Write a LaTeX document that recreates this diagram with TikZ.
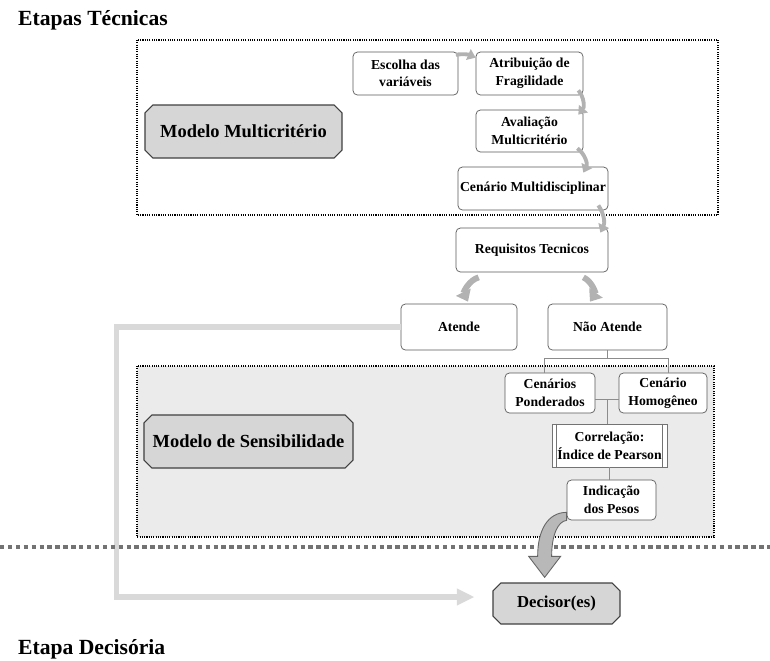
\documentclass[tikz,border=0pt]{standalone}
\usepackage{fontspec}
\setmainfont{Liberation Serif}
\usetikzlibrary{arrows.meta,shapes.misc,calc}
\begin{document}
\begin{tikzpicture}[x=0.2mm,y=-0.2mm,
  caixa/.style={draw=black!65,fill=white,rounded corners=2.5pt,align=center,
    inner sep=1pt,font=\fontsize{7.8}{10}\selectfont\bfseries},
  modelo/.style={chamfered rectangle,chamfered rectangle xsep=0.5mm,draw=black!75,
    fill=black!16,line width=0.6pt,font=\fontsize{10.5}{12}\selectfont\bfseries},
  titulo/.style={anchor=west,font=\fontsize{12.3}{14}\selectfont\bfseries},
  pontilhado/.style={line width=0.8pt,dash pattern=on 0.6pt off 0.7pt},
  separador/.style={draw=black!55,line width=2.2pt,dash pattern=on 2.5pt off 2pt},
  ramo/.style={draw=black!45,line width=0.5pt},
  seta/.style={draw=black!30,line width=2.2pt,-{Triangle[width=6.5pt,length=4.5pt]}},
  setagrande/.style={draw=black!30,line width=3.4pt,-{Triangle[width=9pt,length=6pt]}},
  retorno/.style={draw=black!15,line width=3pt,-{Triangle[width=9pt,length=10pt]}}]
\useasboundingbox (0,0) rectangle (770,660);

\node[titulo] (tecnicas) at (12,20) {Etapas Técnicas};
\node[titulo] (decisoria) at (12,649) {Etapa Decisória};

\draw[pontilhado] (137,40) rectangle (718,215);
\draw[pontilhado,fill=black!8] (137,366) rectangle (714,537);

\node[modelo,minimum width=39.4mm,minimum height=10.6mm] (mmulti) at (243.5,131.5) {Modelo Multicritério};
\node[caixa,minimum width=21mm,minimum height=8.6mm] (escolha) at (405.5,73.5) {Escolha das\\variáveis};
\node[caixa,minimum width=21.4mm,minimum height=8.6mm] (atrib) at (529.5,73.5) {Atribuição de\\Fragilidade};
\node[caixa,minimum width=21.4mm,minimum height=8.4mm] (aval) at (529.5,131) {Avaliação\\Multicritério};
\node[caixa,minimum width=30mm,minimum height=8.6mm] (cenmulti) at (533,188.5) {Cenário Multidisciplinar};
\node[caixa,minimum width=30.4mm,minimum height=8.8mm] (req) at (532,250) {Requisitos Tecnicos};
\node[caixa,minimum width=23.2mm,minimum height=9.2mm] (atende) at (459,327) {Atende};
\node[caixa,minimum width=23.8mm,minimum height=9.2mm] (nao) at (607.5,327) {Não Atende};

\node[modelo,minimum width=41.8mm,minimum height=10.6mm] (msens) at (248.5,441.5) {Modelo de Sensibilidade};
\node[caixa,minimum width=18mm,minimum height=8mm] (cenp) at (550,393) {Cenários\\Ponderados};
\node[caixa,minimum width=17.6mm,minimum height=8mm] (cenh) at (663,393) {Cenário\\Homogêneo};
\node[caixa,rounded corners=0pt,draw=black!55,minimum width=23mm,minimum height=8.6mm] (corr) at (609.5,445.5) {Correlação:\\Índice de Pearson};
\draw[black!55] ([xshift=1mm]corr.north west) -- ([xshift=1mm]corr.south west);
\draw[black!55] ([xshift=-1mm]corr.north east) -- ([xshift=-1mm]corr.south east);
\node[caixa,minimum width=17.8mm,minimum height=8mm] (pesos) at (611.5,500) {Indicação\\dos Pesos};

\node[modelo,minimum width=25.4mm,minimum height=8.2mm,font=\fontsize{9.5}{11}\selectfont\bfseries] (decisor) at (556.5,603.5) {Decisor(es)};

\draw[seta] ([xshift=-0.5mm,yshift=-0.6mm]escolha.north east) to[bend left=15] ([yshift=-1.2mm]atrib.north west);
\draw[seta] ([xshift=-1mm,yshift=1mm]atrib.south east) to[bend left=40] ([xshift=-1mm,yshift=-1mm]aval.north east);
\draw[seta] ([xshift=-1.2mm,yshift=0.8mm]aval.south east) to[bend left=40] ([xshift=-5mm,yshift=-1.2mm]cenmulti.north east);
\draw[seta] ([xshift=-2mm,yshift=1mm]cenmulti.south east) to[bend left=30] ([xshift=-1.6mm,yshift=-1mm]req.north east);
\draw[setagrande] ([xshift=4.6mm,yshift=-1mm]req.south west) to[bend right=50] ([xshift=1.8mm,yshift=0.4mm]atende.north);
\draw[setagrande] ([xshift=-5mm,yshift=-1mm]req.south east) to[bend left=50] ([xshift=-3.5mm,yshift=0.4mm]nao.north);

\draw[ramo] (nao.south) -- ++(0,8) coordinate (bifurca);
\draw[ramo] ([xshift=-1.2mm]cenp.north) |- (bifurca) -| ([xshift=1mm]cenh.north);
\draw[ramo] ([yshift=-1.2mm]cenp.east) -- coordinate[pos=0.5] (meio) ([yshift=-1.2mm]cenh.west);
\draw[ramo] (meio) -- (meio |- corr.north);
\draw[ramo] (corr.south) -- (corr.south |- pesos.north);

\draw[retorno] (atende.west) -| ([xshift=-75.2mm,yshift=1.3mm]decisor.west) -- ([xshift=-3.6mm,yshift=1.3mm]decisor.west);

\draw[separador] (0,547) -- (770,547);

\coordinate (p) at (pesos.south west);
\filldraw[fill=black!28,draw=black!60,line width=0.5pt]
  ($(p)+(0,-8)$) .. controls ($(p)+(-19,-8)$) and ($(p)+(-29,10)$) .. ($(p)+(-29,36)$)
  -- ($(p)+(-38,36)$) -- ($(p)+(-22,57)$) -- ($(p)+(-6,36)$) -- ($(p)+(-15,36)$)
  .. controls ($(p)+(-15,15)$) and ($(p)+(-9,1)$) .. ($(p)+(0,0)$) -- cycle;
\end{tikzpicture}
\end{document}
